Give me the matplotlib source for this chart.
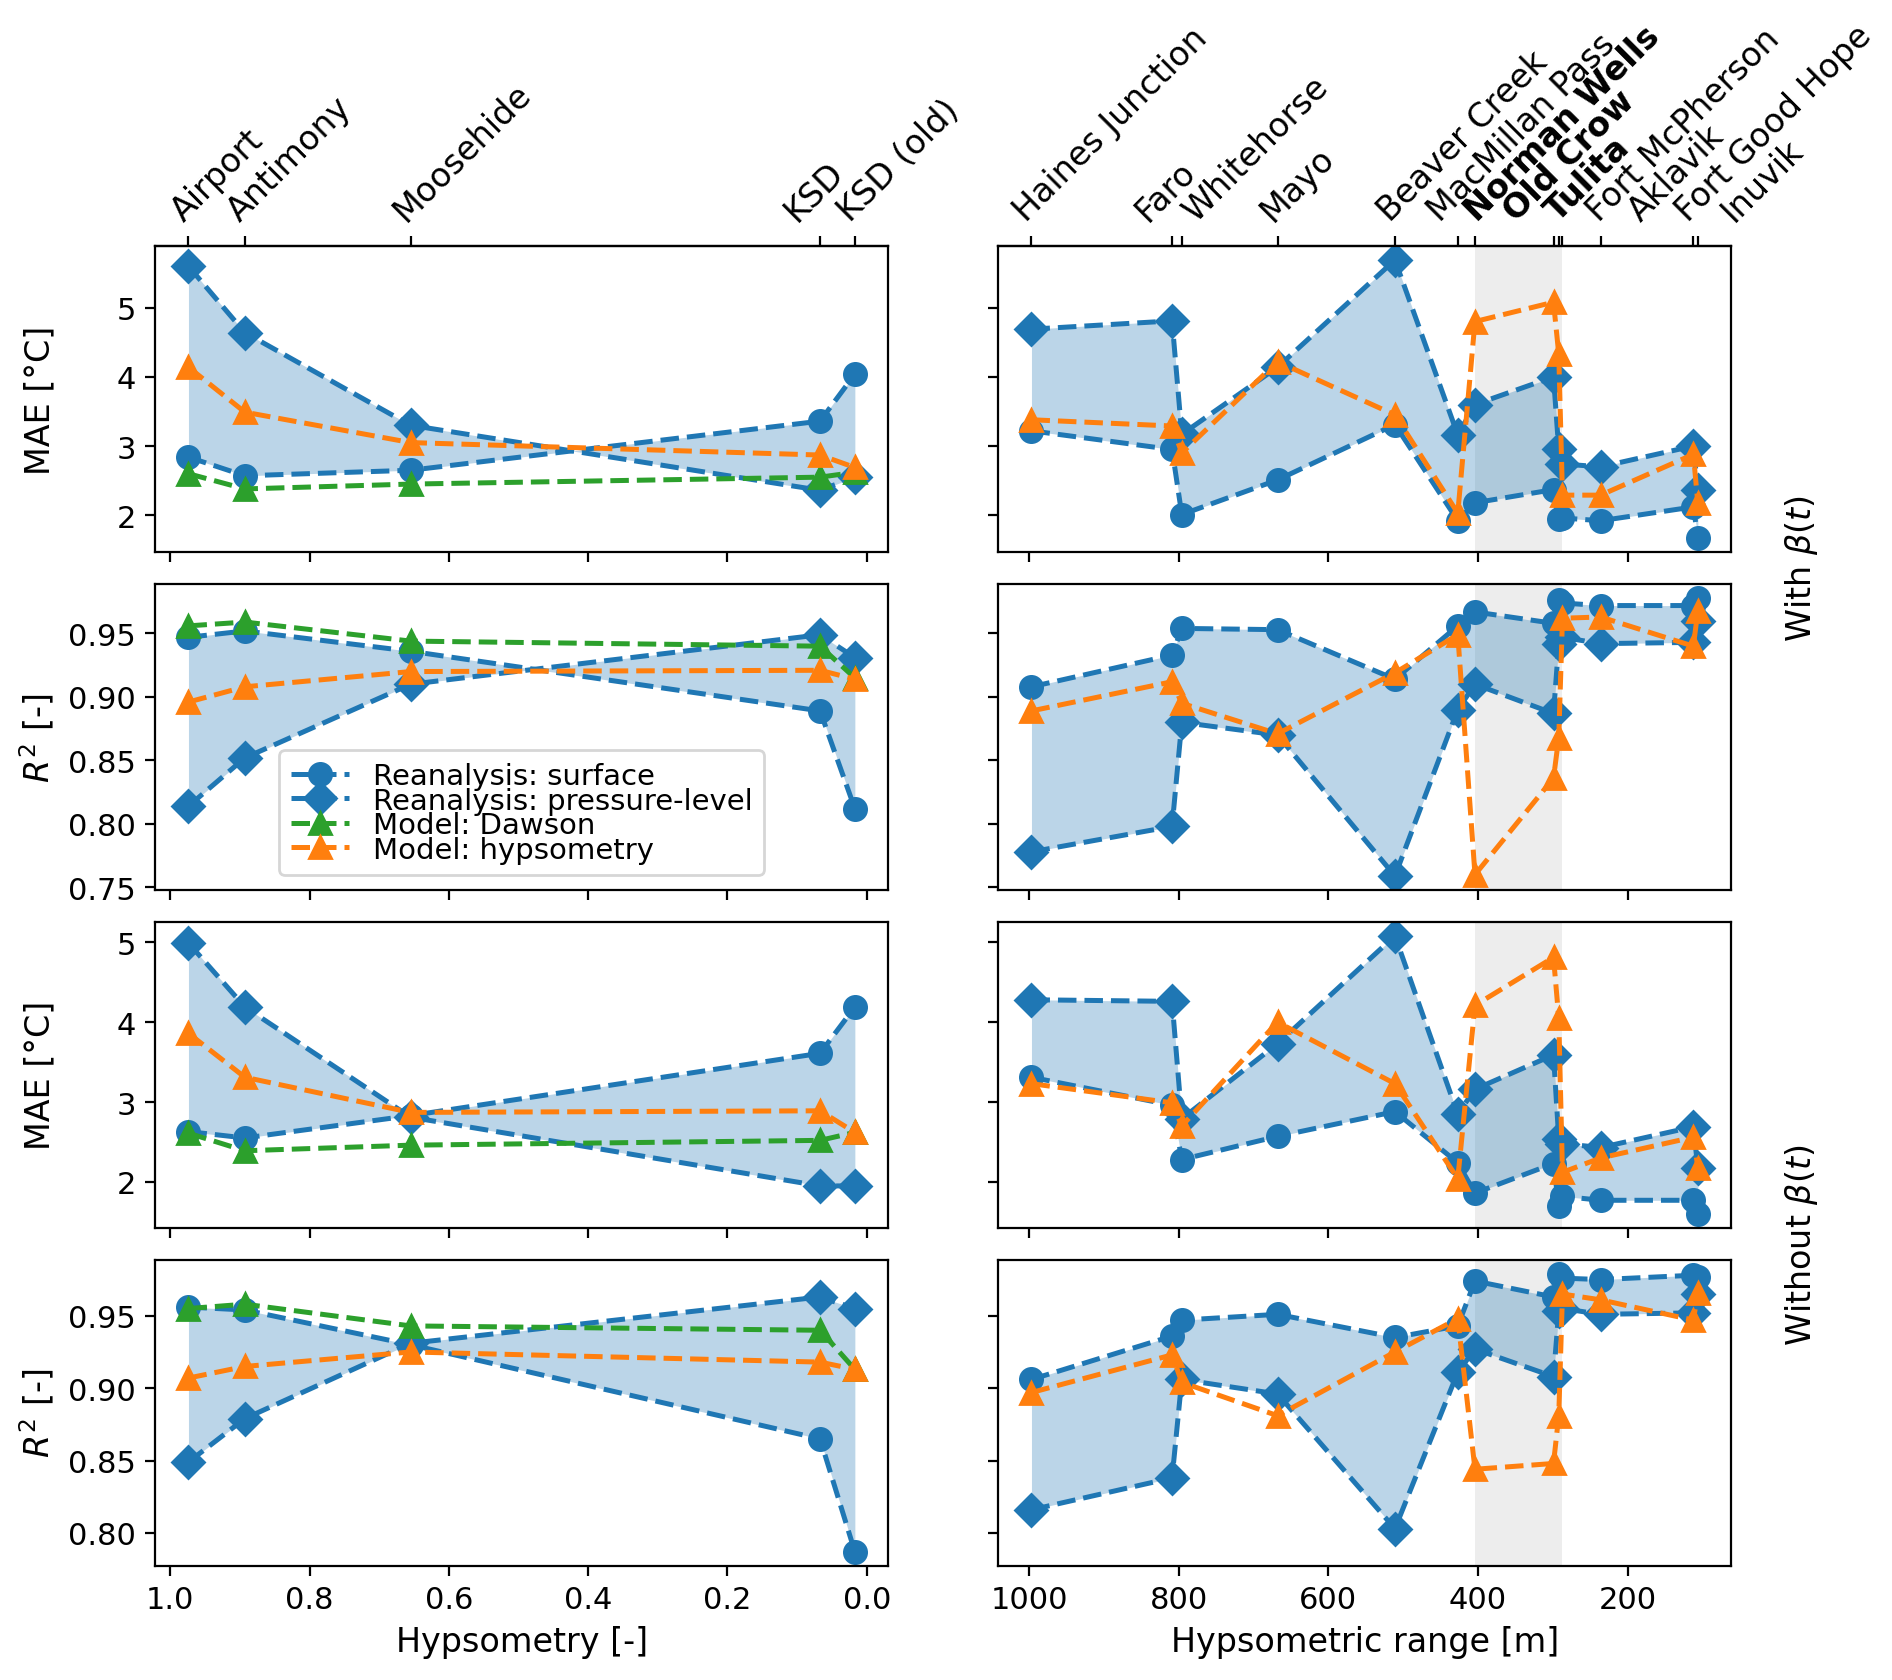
import matplotlib
matplotlib.use("Agg")
import matplotlib.pyplot as plt

plt.rcParams['font.size'] = 11

# left column: stations vs hypsometry
left_names = ['Airport', 'Antimony', 'Moosehide', 'KSD', 'KSD (old)']
left_x = [0.974, 0.893, 0.655, 0.067, 0.017]

l_mae_b_surf = [2.84, 2.57, 2.65, 3.36, 4.04]
l_mae_b_pres = [5.60, 4.64, 3.30, 2.36, 2.55]
l_mae_b_daw = [2.60, 2.38, 2.45, 2.55, 2.62]
l_mae_b_hyp = [4.14, 3.49, 3.05, 2.87, 2.69]

l_r2_b_surf = [0.947, 0.952, 0.936, 0.889, 0.812]
l_r2_b_pres = [0.814, 0.852, 0.910, 0.949, 0.931]
l_r2_b_daw = [0.956, 0.959, 0.944, 0.940, 0.915]
l_r2_b_hyp = [0.896, 0.908, 0.920, 0.921, 0.914]

l_mae_n_surf = [2.63, 2.55, 2.83, 3.61, 4.19]
l_mae_n_pres = [4.99, 4.19, 2.81, 1.95, 1.95]
l_mae_n_daw = [2.61, 2.39, 2.46, 2.52, 2.62]
l_mae_n_hyp = [3.86, 3.31, 2.87, 2.89, 2.62]

l_r2_n_surf = [0.956, 0.954, 0.930, 0.865, 0.787]
l_r2_n_pres = [0.849, 0.879, 0.931, 0.963, 0.955]
l_r2_n_daw = [0.955, 0.958, 0.943, 0.940, 0.913]
l_r2_n_hyp = [0.907, 0.915, 0.925, 0.918, 0.913]

# right column: stations vs hypsometric range
right_names = ['Haines Junction', 'Faro', 'Whitehorse', 'Mayo', 'Beaver Creek',
               'MacMillan Pass', 'Norman Wells', 'Old Crow', 'Tulita',
               'Fort McPherson', 'Aklavik', 'Fort Good Hope', 'Inuvik']
right_x = [997, 809, 796, 668, 511, 427, 404, 299, 292, 287, 236, 112, 106]
bold_names = ['Norman Wells', 'Old Crow', 'Tulita']

r_mae_b_surf = [3.22, 2.95, 2.01, 2.51, 3.31, 1.92, 2.18, 2.37, 1.94, 1.96, 1.92, 2.12, 1.67]
r_mae_b_pres = [4.69, 4.81, 3.17, 4.14, 5.69, 3.16, 3.60, 4.00, 2.95, 2.74, 2.70, 3.00, 2.36]
r_mae_b_hyp = [3.38, 3.29, 2.90, 4.22, 3.45, 2.03, 4.80, 5.08, 4.33, 2.29, 2.29, 2.88, 2.17]

r_r2_b_surf = [0.908, 0.933, 0.954, 0.953, 0.914, 0.956, 0.967, 0.958, 0.976, 0.974, 0.972, 0.972, 0.978]
r_r2_b_pres = [0.778, 0.798, 0.880, 0.870, 0.759, 0.890, 0.910, 0.887, 0.942, 0.947, 0.942, 0.943, 0.960]
r_r2_b_hyp = [0.889, 0.912, 0.895, 0.871, 0.919, 0.949, 0.760, 0.836, 0.868, 0.962, 0.963, 0.940, 0.968]

r_mae_n_surf = [3.31, 2.96, 2.28, 2.57, 2.88, 2.24, 1.86, 2.23, 1.70, 1.82, 1.77, 1.77, 1.60]
r_mae_n_pres = [4.28, 4.26, 2.79, 3.73, 5.08, 2.85, 3.16, 3.59, 2.54, 2.48, 2.43, 2.69, 2.17]
r_mae_n_hyp = [3.23, 2.99, 2.70, 4.00, 3.23, 2.04, 4.21, 4.81, 4.05, 2.12, 2.30, 2.56, 2.18]

r_r2_n_surf = [0.906, 0.936, 0.947, 0.951, 0.935, 0.943, 0.974, 0.963, 0.979, 0.976, 0.975, 0.978, 0.977]
r_r2_n_pres = [0.816, 0.838, 0.906, 0.896, 0.803, 0.911, 0.927, 0.908, 0.953, 0.955, 0.951, 0.952, 0.965]
r_r2_n_hyp = [0.897, 0.923, 0.904, 0.881, 0.925, 0.948, 0.844, 0.848, 0.881, 0.965, 0.961, 0.947, 0.966]

# sideways nudges (points) so the crowded station names don't pile up
left_nudge = [0, 0, 0, -6.5, 0]
right_nudge = [0, -6.8, 6.8, 0, 0, -4.7, 2.5, -11.9, 1.4, 15.1, 16.2, 0, 14.7]

rows = [
    ('MAE [°C]', (l_mae_b_surf, l_mae_b_pres, l_mae_b_daw, l_mae_b_hyp), (r_mae_b_surf, r_mae_b_pres, r_mae_b_hyp)),
    ('$R^2$ [-]', (l_r2_b_surf, l_r2_b_pres, l_r2_b_daw, l_r2_b_hyp), (r_r2_b_surf, r_r2_b_pres, r_r2_b_hyp)),
    ('MAE [°C]', (l_mae_n_surf, l_mae_n_pres, l_mae_n_daw, l_mae_n_hyp), (r_mae_n_surf, r_mae_n_pres, r_mae_n_hyp)),
    ('$R^2$ [-]', (l_r2_n_surf, l_r2_n_pres, l_r2_n_daw, l_r2_n_hyp), (r_r2_n_surf, r_r2_n_pres, r_r2_n_hyp)),
]

fig, axes = plt.subplots(4, 2, figsize=(9.46, 8.405), dpi=200, sharex='col', sharey='row')
fig.subplots_adjust(left=0.082, right=0.915, bottom=0.068, top=0.853, wspace=0.15, hspace=0.105)

ms = 8
lw = 1.8
for i, (ylab, lv, rv) in enumerate(rows):
    axl, axr = axes[i]
    s, p, d, h = lv
    axl.fill_between(left_x, s, p, color='C0', alpha=0.3, lw=0)
    axl.plot(left_x, s, '--', marker='o', color='C0', ms=ms, lw=lw, label='Reanalysis: surface')
    axl.plot(left_x, p, '--', marker='D', color='C0', ms=ms, lw=lw, label='Reanalysis: pressure-level')
    axl.plot(left_x, d, '--', marker='^', color='C2', ms=ms, lw=lw, label='Model: Dawson')
    axl.plot(left_x, h, '--', marker='^', color='C1', ms=ms, lw=lw, label='Model: hypsometry')
    axl.set_ylabel(ylab, fontsize=12)

    s, p, h = rv
    axr.axvspan(right_x[6], right_x[9], color='#d3d3d3', alpha=0.4, lw=0, zorder=0)
    axr.fill_between(right_x, s, p, color='C0', alpha=0.3, lw=0)
    axr.plot(right_x, s, '--', marker='o', color='C0', ms=ms, lw=lw)
    axr.plot(right_x, p, '--', marker='D', color='C0', ms=ms, lw=lw)
    axr.plot(right_x, h, '--', marker='^', color='C1', ms=ms, lw=lw)

axes[0, 0].invert_xaxis()
axes[0, 1].invert_xaxis()
axes[0, 0].set_xticks([1.0, 0.8, 0.6, 0.4, 0.2, 0.0])
axes[0, 1].set_xticks([1000, 800, 600, 400, 200])
axes[0, 0].set_yticks([2, 3, 4, 5])
axes[2, 0].set_yticks([2, 3, 4, 5])
axes[1, 0].set_yticks([0.75, 0.80, 0.85, 0.90, 0.95])
axes[3, 0].set_yticks([0.80, 0.85, 0.90, 0.95])

axes[3, 0].set_xlabel('Hypsometry [-]', fontsize=12)
axes[3, 1].set_xlabel('Hypsometric range [m]', fontsize=12)

axes[1, 0].legend(loc='lower center', fontsize=10.5, labelspacing=-0.12, borderpad=0.4)

# station names on top: ticks at the stations, names nudged sideways
for ax, xs, names, nudge in [(axes[0, 0], left_x, left_names, left_nudge),
                             (axes[0, 1], right_x, right_names, right_nudge)]:
    top = ax.secondary_xaxis('top')
    top.set_xticks(xs, [''] * len(xs))
    for x, name, dx in zip(xs, names, nudge):
        ax.annotate(name, xy=(x, 1.0), xycoords=ax.get_xaxis_transform(),
                    xytext=(dx, 7), textcoords='offset points',
                    rotation=45, ha='left', va='bottom', rotation_mode='anchor',
                    fontsize=12, annotation_clip=False,
                    fontweight='bold' if name in bold_names else 'normal')

fig.align_ylabels(axes[:, 0])
fig.text(0.952, 0.662, r'With $\beta(t)$', rotation=90, va='center', ha='center', fontsize=12)
fig.text(0.952, 0.259, r'Without $\beta(t)$', rotation=90, va='center', ha='center', fontsize=12)

fig.savefig('out.png', dpi=200)
